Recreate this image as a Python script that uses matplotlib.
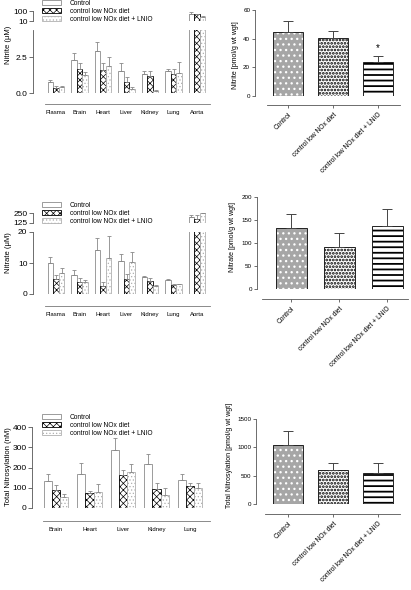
import numpy as np
import matplotlib
matplotlib.use('Agg')
import matplotlib.pyplot as plt
from matplotlib.patches import Patch

plt.rcParams['font.family'] = ['Liberation Sans', 'DejaVu Sans']
plt.rcParams['hatch.linewidth'] = 0.5

# 資料
groups = ['Control', 'control low NOx diet', 'control low NOx diet + LNIO']

tissues7 = ['Plasma', 'Brain', 'Heart', 'Liver', 'Kidney', 'Lung', 'Aorta']
nitrite_ctrl = [0.74, 2.27, 2.96, 1.57, 1.30, 1.57, 76]
nitrite_ctrl_err = [0.19, 0.51, 0.63, 0.51, 0.27, 0.14, 12]
nitrite_low = [0.35, 1.67, 1.62, 0.76, 1.20, 1.32, 70]
nitrite_low_err = [0.15, 0.41, 0.46, 0.34, 0.37, 0.39, 6]
nitrite_lnio = [0.42, 1.25, 1.90, 0.30, 0.14, 1.39, 46]
nitrite_lnio_err = [0.08, 0.25, 0.58, 0.12, 0.09, 0.81, 12]

nitrate_ctrl = [10.0, 6.2, 14.1, 10.8, 5.4, 4.5, 200]
nitrate_ctrl_err = [1.9, 1.6, 4.0, 2.1, 0.3, 0.3, 30]
nitrate_low = [4.9, 3.8, 2.7, 4.9, 4.1, 2.9, 170]
nitrate_low_err = [1.1, 1.4, 1.1, 1.6, 1.1, 0.4, 60]
nitrate_lnio = [6.7, 3.9, 11.6, 10.4, 2.7, 3.1, 245]
nitrate_lnio_err = [1.7, 0.7, 7.0, 3.0, 0.2, 0.2, 5]

tissues5 = ['Brain', 'Heart', 'Liver', 'Kidney', 'Lung']
nitros_ctrl = [135, 170, 285, 217, 140]
nitros_ctrl_err = [33, 52, 59, 48, 28]
nitros_low = [90, 74, 161, 94, 107]
nitros_low_err = [25, 8, 28, 29, 16]
nitros_lnio = [54, 81, 179, 66, 97]
nitros_lnio_err = [15, 38, 40, 34, 26]

tissue_nitrite = [44.8, 40.2, 23.6]
tissue_nitrite_err = [7.7, 5.3, 4.4]
tissue_nitrate = [132, 92, 137]
tissue_nitrate_err = [30, 29, 36]
tissue_nitros = [1045, 602, 555]
tissue_nitros_err = [237, 118, 165]

W, H = 411, 590
fig = plt.figure(figsize=(W / 100, H / 100), dpi=100)


def ax_px(left, top, right, bottom):
    return fig.add_axes([left / W, 1 - bottom / H, (right - left) / W, (bottom - top) / H])


def px2pt(p):
    return p * 72 / 100


# 左側長條樣式
left_styles = [
    dict(facecolor='white', edgecolor='#8c8c8c', hatch=None),
    dict(facecolor='white', edgecolor='black', hatch='xxxxx'),
    dict(facecolor='white', edgecolor='#b0b0b0', hatch='.....'),
]


def left_bars(ax, x, vals, errs, width, bottom=0):
    for i, (v, e, st) in enumerate(zip(vals, errs, left_styles)):
        xx = x + (i - 1) * width
        h = np.array(v) - bottom
        ax.bar(xx, h, width, bottom=bottom, color=st['facecolor'], edgecolor=st['edgecolor'],
               hatch=st['hatch'], linewidth=0.6)
        ax.errorbar(xx, v, yerr=[np.zeros(len(v)), e], fmt='none', ecolor='#888888',
                    elinewidth=0.6, capsize=1.2, capthick=0.6)


def style_left(ax, xlo, xhi, ylo, yhi, show_x=True, off=11):
    for s in ['top', 'right']:
        ax.spines[s].set_visible(False)
    ax.spines['left'].set_bounds(ylo, yhi)
    ax.spines['left'].set_linewidth(0.6)
    ax.spines['left'].set_color('#555555')
    ax.tick_params(axis='y', length=3, width=0.6, labelsize=6, pad=1, color='#555555')
    if show_x:
        ax.spines['bottom'].set_position(('outward', px2pt(off)))
        ax.spines['bottom'].set_bounds(xlo, xhi)
        ax.spines['bottom'].set_linewidth(0.6)
        ax.spines['bottom'].set_color('#777777')
        ax.tick_params(axis='x', length=0, labelsize=4.3, pad=4)
    else:
        ax.spines['bottom'].set_visible(False)
        ax.tick_params(axis='x', length=0, labelbottom=False)


def broken_panel(lower_top, lower_bot, ctrl, ce, low, le, lnio, lnio_e,
                 lo_max, lo_ticks, lo_labels, up_min, up_max, up_top, up_bot, off):
    x = np.arange(7)
    step = 23.5
    left, right = 33, 212
    xl = (-(56 - left) / step, 6 + (right - 197) / step)
    wbar = 0.235
    ax_lo = ax_px(left, lower_top, right, lower_bot)
    left_bars(ax_lo, x, [ctrl, low, lnio], [ce, le, lnio_e], wbar)
    ax_lo.set_xlim(*xl)
    ax_lo.set_ylim(0, lo_max)
    ax_lo.set_yticks(lo_ticks)
    ax_lo.set_yticklabels(lo_labels)
    ax_lo.set_xticks(x)
    ax_lo.set_xticklabels(tissues7)
    style_left(ax_lo, (45 - 56) / step, 6 + (210 - 197) / step, 0, lo_max, off=off)

    ax_up = ax_px(left, up_top, right, up_bot)
    left_bars(ax_up, x[-1:], [[ctrl[-1]], [low[-1]], [lnio[-1]]],
              [[ce[-1]], [le[-1]], [lnio_e[-1]]], wbar, bottom=up_min)
    ax_up.set_xlim(*xl)
    ax_up.set_ylim(up_min, up_max)
    ax_up.set_yticks([up_min, up_max])
    style_left(ax_up, 0, 0, up_min, up_max, show_x=False)
    ax_up.patch.set_visible(False)
    return ax_lo


def add_legend(y_px):
    handles = [Patch(facecolor=s['facecolor'], edgecolor=s['edgecolor'], hatch=s['hatch'],
                     linewidth=0.6) for s in left_styles]
    fig.legend(handles, groups, loc='upper left', bbox_to_anchor=(42 / W, 1 - y_px / H),
               frameon=False, fontsize=4.8, handlelength=2.8, handleheight=0.8,
               labelspacing=0.12, handletextpad=1.4, borderpad=0, borderaxespad=0)


# Nitrite 左
broken_panel(30, 93, nitrite_ctrl, nitrite_ctrl_err, nitrite_low, nitrite_low_err,
             nitrite_lnio, nitrite_lnio_err, 4.4, [0, 2.5], ['0.0', '2.5'],
             10, 100, 11, 21, 11)
add_legend(0)
fig.text(8 / W, 1 - 45 / H, 'Nitrite (\u03bcM)', rotation=90, ha='center', va='center', fontsize=5.5)

# Nitrate 左
broken_panel(232, 294, nitrate_ctrl, nitrate_ctrl_err, nitrate_low, nitrate_low_err,
             nitrate_lnio, nitrate_lnio_err, 20, [0, 10, 20], ['0', '10', '20'],
             125, 250, 213, 223, 12)
add_legend(202)
fig.text(8 / W, 1 - 253 / H, 'Nitrate (\u03bcM)', rotation=90, ha='center', va='center', fontsize=5.5)

# Total nitrosylation 左
x5 = np.arange(5)
step5 = 33.5
ax5 = ax_px(32, 427, 212, 508)
left_bars(ax5, x5, [nitros_ctrl, nitros_low, nitros_lnio],
          [nitros_ctrl_err, nitros_low_err, nitros_lnio_err], 0.24)
ax5.set_xlim(-(56 - 32) / step5, 4 + (212 - 190) / step5)
ax5.set_ylim(0, 400)
ax5.set_yticks([0, 100, 200, 300, 400])
ax5.set_xticks(x5)
ax5.set_xticklabels(tissues5)
style_left(ax5, (43 - 56) / step5, 4 + (210 - 190) / step5, 0, 400, off=13)
add_legend(414)
fig.text(8 / W, 1 - 467 / H, 'Total Nitrosylation (nM)', rotation=90, ha='center', va='center',
         fontsize=5.5)


# 右側組織圖
def right_panel(yax, top, bot, centers, bw, vals, errs, ymax, ticks, ylabel, lab_x, lab_y,
                spine_lo, spine_hi, off, star=False):
    step = centers[1] - centers[0]
    ax = ax_px(yax, top, 410, bot)
    x = np.arange(3)
    w = bw / step
    with plt.rc_context({'hatch.linewidth': 0.9}):
        ax.bar(x[0], vals[0], w, color='#a6a6a6', edgecolor='white', hatch='...', linewidth=0)
    with plt.rc_context({'hatch.linewidth': 1.3}):
        ax.bar(x[1], vals[1], w, color='white', edgecolor='black', hatch='.....', linewidth=0)
    with plt.rc_context({'hatch.linewidth': 1.3}):
        ax.bar(x[2], vals[2], w, color='white', edgecolor='black', hatch='---', linewidth=0)
    ax.bar(x, vals, w, fill=False, edgecolor='#222222', linewidth=0.7)
    ax.errorbar(x, vals, yerr=[np.zeros(3), errs], fmt='none', ecolor='#444444',
                elinewidth=0.7, capsize=3.5, capthick=0.7)
    if star:
        ax.text(x[2], vals[2] + errs[2] + ymax * 0.03, '*', ha='center', va='bottom', fontsize=7)
    ax.set_xlim(-(centers[0] - yax) / step, 2 + (410 - centers[2]) / step)
    ax.set_ylim(0, ymax)
    ax.set_yticks(ticks)
    ax.set_xticks(x)
    ax.set_xticklabels(groups)
    for s in ['top', 'right']:
        ax.spines[s].set_visible(False)
    ax.spines['left'].set_bounds(0, ymax)
    ax.spines['bottom'].set_position(('outward', px2pt(off)))
    ax.spines['bottom'].set_bounds((spine_lo - centers[0]) / step, 2 + (spine_hi - centers[2]) / step)
    for s in ['left', 'bottom']:
        ax.spines[s].set_linewidth(0.6)
        ax.spines[s].set_color('#555555')
    ax.tick_params(axis='y', length=2.5, width=0.6, labelsize=4.5, pad=1, color='#555555')
    ax.tick_params(axis='x', length=2.5, width=0.6, labelsize=4.8, pad=2, color='#555555',
                   labelrotation=45)
    for lab in ax.get_xticklabels():
        lab.set_ha('right')
        lab.set_rotation_mode('anchor')
    ax.patch.set_visible(False)
    fig.text(lab_x / W, 1 - lab_y / H, ylabel, rotation=90, ha='center', va='center', fontsize=5)


right_panel(255, 10, 96, [288, 333, 378], 30, tissue_nitrite, tissue_nitrite_err, 60,
            [0, 20, 40, 60], 'Nitrite [pmol/g wt wgt]', 235, 55, 267, 400, 9, star=True)
right_panel(257, 197, 289, [291, 339, 387], 31, tissue_nitrate, tissue_nitrate_err, 200,
            [0, 50, 100, 150, 200], 'Nitrate [pmol/g wt wgt]', 232, 237, 262, 408, 10)
right_panel(256, 419, 504, [288, 333, 378], 30, tissue_nitros, tissue_nitros_err, 1500,
            [0, 500, 1000, 1500], 'Total Nitrosylation [pmol/g wt wgt]', 229, 455, 265, 400, 10)

fig.savefig('out.png', dpi=100)
